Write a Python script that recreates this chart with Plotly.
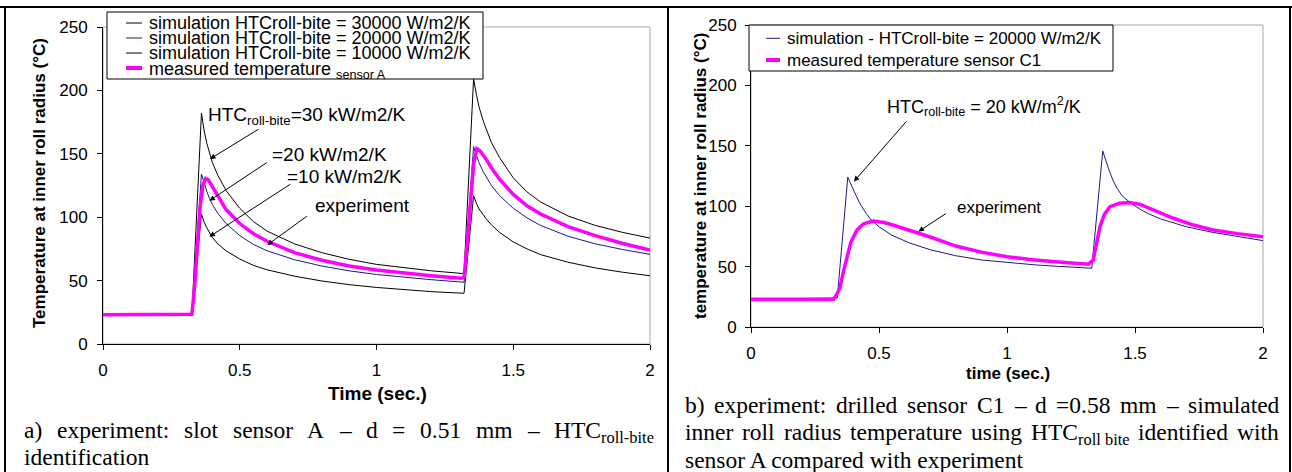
import plotly.graph_objects as go

W, H = 1292, 472

# ---------------- data: panel a (sensor A) ----------------
t_sim_a = [0.0, 0.325, 0.36, 0.37, 0.38, 0.39, 0.40, 0.42, 0.45, 0.50, 0.55, 0.60, 0.70, 0.80, 0.90,
           1.00, 1.10, 1.20, 1.32, 1.355, 1.365, 1.375, 1.39, 1.40, 1.42, 1.45, 1.50, 1.55, 1.60,
           1.70, 1.80, 1.90, 2.00]
T_sim30 = [23, 23, 182, 168, 158, 150, 143, 133, 121, 107, 96.5, 89, 79, 72, 66.8, 62.8, 60, 57.7, 55.5,
           209, 197, 187, 176, 170, 159, 147, 131, 120, 112, 101, 93.5, 88, 83.5]
T_sim20 = [23, 23, 134, 126, 120, 114.5, 110, 103, 95, 85.5, 78.5, 73.5, 66.5, 61.5, 57.7, 54.8, 52.6,
           50.7, 48.7, 155.6, 149, 143, 136, 132, 125, 117, 107, 99.5, 93.5, 85, 79, 74.5, 70.7]
T_sim10 = [23, 23, 102.5, 96, 91.5, 87.5, 84, 79, 73.5, 67, 62, 58.5, 53.5, 49.7, 46.8, 44.6, 42.8,
           41.3, 40, 117, 111, 106.5, 102, 99, 94, 88, 80.5, 75, 70.5, 64.5, 60, 56.6, 53.8]

t_meas_a = [0, 0.325, 0.335, 0.345, 0.355, 0.365, 0.375, 0.385, 0.40, 0.42, 0.45, 0.50, 0.55, 0.60,
            0.70, 0.80, 0.90, 1.00, 1.10, 1.20, 1.31, 1.32, 1.33, 1.345, 1.355, 1.367, 1.38, 1.40,
            1.42, 1.45, 1.50, 1.55, 1.60, 1.70, 1.80, 1.90, 2.00]
T_meas_a = [23, 23.5, 45, 80, 108, 125, 130.5, 129.5, 124, 116, 106, 95, 87, 81, 72, 66, 61.5, 58.3,
            55.8, 53.8, 51.8, 52.5, 75, 118, 142, 154, 152, 146, 139, 130, 118, 109, 102.5, 92.5,
            85.5, 79.3, 74]

# ---------------- data: panel b (sensor C1) ----------------
t_sim_b = [0, 0.337, 0.378, 0.385, 0.393, 0.40, 0.41, 0.426, 0.45, 0.47, 0.50, 0.55, 0.62, 0.70,
           0.80, 0.90, 1.00, 1.116, 1.20, 1.331, 1.374, 1.38, 1.389, 1.40, 1.415, 1.43, 1.45, 1.487,
           1.52, 1.55, 1.60, 1.70, 1.80, 1.90, 2.00]
T_sim_b = [23, 24, 124, 120.5, 117, 113.5, 109, 102, 94, 88.5, 83, 76, 69.5, 64, 59, 55.5, 53.3,
           51.3, 50.2, 48.6, 145.7, 141.5, 135.5, 129, 121, 114.8, 108.5, 102, 97.5, 94, 89.5, 83,
           78.5, 74.8, 71.5]

t_meas_b = [0, 0.322, 0.335, 0.348, 0.36, 0.374, 0.39, 0.413, 0.44, 0.478, 0.52, 0.56, 0.621, 0.654,
            0.70, 0.80, 0.90, 1.00, 1.10, 1.20, 1.318, 1.337, 1.35, 1.363, 1.38, 1.402, 1.44, 1.48,
            1.52, 1.60, 1.65, 1.728, 1.80, 1.90, 2.00]
T_meas_b = [23, 23, 27, 33, 45, 58, 70, 80, 85.5, 87.7, 86.5, 84, 80, 77.5, 74.5, 67, 62, 58.2, 55.6,
            53.8, 52, 55.5, 68, 83, 93, 99.6, 102.5, 103, 101.5, 94, 90, 84.4, 80.5, 77.3, 74.7]

x_ticks = [0, 0.5, 1, 1.5, 2]
x_ticktext = ["0", "0.5", "1", "1.5", "2"]
y_ticks = [0, 50, 100, 150, 200, 250]

legend_a = ["simulation HTCroll-bite = 30000 W/m2/K",
            "simulation HTCroll-bite = 20000 W/m2/K",
            "simulation HTCroll-bite = 10000 W/m2/K",
            "measured temperature <sub>sensor A</sub>"]
legend_b = ["simulation - HTCroll-bite = 20000 W/m2/K",
            "measured temperature sensor C1"]

caption_a = [["a)", "experiment:", "slot", "sensor", "A", "–", "d", "=", "0.51", "mm", "–",
              ("HTC", "roll-bite")],
             ["identification"]]
caption_b = [["b)", "experiment:", "drilled", "sensor", "C1", "–", "d", "=0.58", "mm", "–", "simulated"],
             ["inner", "roll", "radius", "temperature", "using", ("HTC", "roll bite"), "identified", "with"],
             ["sensor A compared with experiment"]]

# ---------------- helpers ----------------
def px(x):
    return x / W


def py(y):
    return 1 - y / H


SANS = "Arial, Liberation Sans, sans-serif"
SERIF = "Times New Roman, Liberation Serif, serif"
BLACK_LINE = "#000000"
NAVY = "#1a1a8a"
MAGENTA = "#ff00ff"

fig = go.Figure()

# panel a traces
fig.add_trace(go.Scatter(x=t_sim_a, y=T_sim30, mode="lines", line=dict(color=BLACK_LINE, width=1),
                         name=legend_a[0], xaxis="x", yaxis="y", showlegend=False))
fig.add_trace(go.Scatter(x=t_sim_a, y=T_sim20, mode="lines", line=dict(color=NAVY, width=1),
                         name=legend_a[1], xaxis="x", yaxis="y", showlegend=False))
fig.add_trace(go.Scatter(x=t_sim_a, y=T_sim10, mode="lines", line=dict(color=BLACK_LINE, width=1),
                         name=legend_a[2], xaxis="x", yaxis="y", showlegend=False))
fig.add_trace(go.Scatter(x=t_meas_a, y=T_meas_a, mode="lines", line=dict(color=MAGENTA, width=3.5),
                         name="measured temperature sensor A", xaxis="x", yaxis="y", showlegend=False))
# panel b traces
fig.add_trace(go.Scatter(x=t_sim_b, y=T_sim_b, mode="lines", line=dict(color=NAVY, width=1),
                         name=legend_b[0], xaxis="x2", yaxis="y2", showlegend=False))
fig.add_trace(go.Scatter(x=t_meas_b, y=T_meas_b, mode="lines", line=dict(color=MAGENTA, width=3.5),
                         name=legend_b[1], xaxis="x2", yaxis="y2", showlegend=False))


def axis(**kw):
    d = dict(showline=True, linecolor="black", linewidth=1, ticks="outside", ticklen=5, tickwidth=1,
             tickcolor="black", showgrid=False, zeroline=False, fixedrange=True, automargin=False,
             tickfont=dict(family=SANS, size=17, color="black"))
    d.update(kw)
    return d


fig.update_layout(
    width=W, height=H, autosize=False,
    margin=dict(l=0, r=0, t=0, b=0, pad=0, autoexpand=False),
    paper_bgcolor="white", plot_bgcolor="white",
    showlegend=False,
    xaxis=axis(domain=[px(103), px(650)], range=[0, 2], anchor="y", tickvals=x_ticks,
               ticktext=x_ticktext, ticklabelstandoff=6),
    yaxis=axis(domain=[py(344), py(27)], range=[0, 250], anchor="x", tickvals=y_ticks,
               ticklabelstandoff=6),
    xaxis2=axis(domain=[px(751), px(1263)], range=[0, 2], anchor="y2", tickvals=x_ticks,
                ticktext=x_ticktext, ticklabelstandoff=6),
    yaxis2=axis(domain=[py(327), py(25)], range=[0, 250], anchor="x2", tickvals=y_ticks,
                ticklabelstandoff=5),
)

shapes = []
# grey plot-area borders
for xr, yr in (("x domain", "y domain"), ("x2 domain", "y2 domain")):
    shapes.append(dict(type="rect", xref=xr, yref=yr, x0=0, x1=1, y0=0, y1=1,
                       line=dict(color="#a8a8a8", width=1), layer="below"))
# page frame lines
for (x0, y0, x1, y1) in ((0, 7, W, 7), (5, 7, 5, H), (668, 7, 668, H), (1290, 7, 1290, H)):
    shapes.append(dict(type="line", xref="paper", yref="paper", x0=px(x0), x1=px(x1), y0=py(y0),
                       y1=py(y1), line=dict(color="black", width=2)))

# manual legend a
shapes.append(dict(type="rect", xref="paper", yref="paper", x0=px(107), x1=px(483), y0=py(79),
                   y1=py(12), line=dict(color="black", width=1), fillcolor="white"))
leg_a_rows = [23, 38, 53, 68]
leg_a_cols = [(BLACK_LINE, 1), (NAVY, 1), (BLACK_LINE, 1), (MAGENTA, 4)]
for yy, (c, w) in zip(leg_a_rows, leg_a_cols):
    shapes.append(dict(type="line", xref="paper", yref="paper", x0=px(126), x1=px(142), y0=py(yy),
                       y1=py(yy), line=dict(color=c, width=w)))
# manual legend b
shapes.append(dict(type="rect", xref="paper", yref="paper", x0=px(749), x1=px(1113), y0=py(71),
                   y1=py(25), line=dict(color="black", width=1), fillcolor="white"))
leg_b_rows = [38.3, 60]
leg_b_cols = [(NAVY, 1), (MAGENTA, 4)]
for yy, (c, w) in zip(leg_b_rows, leg_b_cols):
    shapes.append(dict(type="line", xref="paper", yref="paper", x0=px(766), x1=px(780), y0=py(yy),
                       y1=py(yy), line=dict(color=c, width=w)))

fig.update_layout(shapes=shapes)

ann = []


def text(x, y, s, size, family=SANS, anchor="left", angle=0):
    ann.append(dict(xref="paper", yref="paper", x=px(x), y=py(y), text=s, showarrow=False,
                    xanchor=anchor, yanchor="middle", textangle=angle,
                    font=dict(family=family, size=size, color="black")))


# legend texts
for yy, s in zip(leg_a_rows, legend_a):
    text(147, yy + (3 if "<sub>" in s else 0), s, 18)
for yy, s in zip(leg_b_rows, legend_b):
    text(785, yy, s, 17)

# axis titles
text(40, 183, "<b>Temperature at inner roll radius (°C)</b>", 17, anchor="center", angle=-90)
text(700, 176, "<b>temperature at inner roll radius (°C)</b>", 17, anchor="center", angle=-90)
text(377, 393, "<b>Time (sec.)</b>", 19, anchor="center")
text(1008, 373, "<b>time (sec.)</b>", 17, anchor="center")

# in-plot labels
text(206, 116, "HTC<sub>roll-bite</sub>=30 kW/m2/K", 19)
text(270, 154, "=20 kW/m2/K", 19)
text(285, 176.5, "=10 kW/m2/K", 19)
text(313, 206, "experiment", 19)
text(885, 106, "HTC<sub>roll-bite</sub> = 20 kW/m<sup>2</sup>/K", 18)
text(955, 208, "experiment", 17)


def arrow(xr, yr, tail, head):
    ann.append(dict(xref=xr, yref=yr, axref=xr, ayref=yr, x=head[0], y=head[1], ax=tail[0],
                    ay=tail[1], text="", showarrow=True, arrowhead=2, arrowsize=1.1, arrowwidth=1,
                    arrowcolor="black", standoff=0, startstandoff=0))


arrow("x", "y", (0.574, 170.1), (0.391, 145.9))
arrow("x", "y", (0.604, 143.8), (0.389, 113.0))
arrow("x", "y", (0.690, 126.7), (0.389, 84.6))
arrow("x", "y", (0.751, 101.7), (0.601, 78.1))
arrow("x2", "y2", (0.612, 171.4), (0.402, 120.4))
arrow("x2", "y2", (0.767, 94.7), (0.654, 79.0))

# captions (justified lines)
TW = {" ": 250, "a": 444, "b": 500, "c": 444, "d": 500, "e": 444, "f": 333, "g": 500, "h": 500,
      "i": 278, "j": 278, "k": 500, "l": 278, "m": 778, "n": 500, "o": 500, "p": 500, "q": 500,
      "r": 333, "s": 389, "t": 278, "u": 500, "v": 500, "w": 722, "x": 500, "y": 500, "z": 444,
      "A": 722, "C": 667, "H": 722, "T": 611, ".": 250, ":": 278, "(": 333, ")": 333, "=": 564,
      "–": 500, "-": 333}
for dgt in "0123456789":
    TW[dgt] = 500
CAP_FS = 23.5


def tw(s, fs):
    return sum(TW.get(ch, 500) for ch in s) / 1000 * fs


def word_width(wd):
    if isinstance(wd, tuple):
        return tw(wd[0], CAP_FS) + tw(wd[1], CAP_FS * 0.7)
    return tw(wd, CAP_FS)


def word_html(wd):
    if isinstance(wd, tuple):
        return "%s<sub>%s</sub>" % wd
    return wd


def caption(lines, x0, x1, ys, justify_lines):
    for i, (words, yy) in enumerate(zip(lines, ys)):
        if i in justify_lines and len(words) > 1:
            widths = [word_width(w) for w in words]
            gap = (x1 - x0 - sum(widths)) / (len(words) - 1)
            xx = x0
            for wd, wdw in zip(words, widths):
                ann.append(dict(xref="paper", yref="paper", x=px(xx), y=py(yy - 15), text=word_html(wd),
                                showarrow=False, xanchor="left", yanchor="top",
                                font=dict(family=SERIF, size=CAP_FS, color="black")))
                xx += wdw + gap
        else:
            ann.append(dict(xref="paper", yref="paper", x=px(x0), y=py(yy - 15),
                            text=" ".join(word_html(w) for w in words), showarrow=False,
                            xanchor="left", yanchor="top",
                            font=dict(family=SERIF, size=CAP_FS, color="black")))


caption(caption_a, 21.7, 652, [430, 457], {0})
caption(caption_b, 683.3, 1277, [405, 432, 460], {0, 1})

fig.update_layout(annotations=ann)

fig.write_html("out.html", include_plotlyjs=True, config={"displayModeBar": False},
               post_script="document.body.style.margin='0';document.body.style.overflow='hidden';")
